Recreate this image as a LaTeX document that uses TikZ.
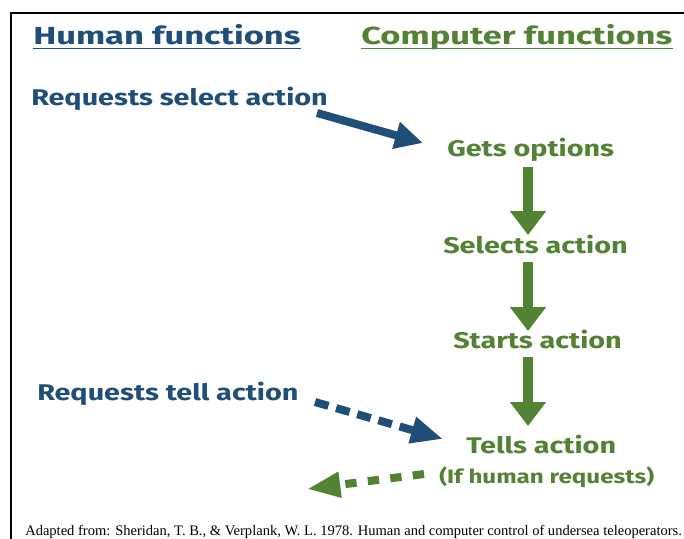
\documentclass[tikz,border=0pt]{standalone}
\usepackage{fontspec}
\setmainfont{Fira Sans}
\newfontfamily\headfont{Fira Sans}[FakeStretch=1.40]
\newfontfamily\stepfont{Fira Sans}[FakeStretch=1.27]
\newfontfamily\notefont{Fira Sans}[FakeStretch=1.25]
\newfontfamily\citefont{Liberation Serif}
\usetikzlibrary{arrows.meta}
\definecolor{hblue}{HTML}{1F4E79}
\definecolor{cgreen}{HTML}{548235}
\begin{document}
\begin{tikzpicture}[x=0.75pt,y=-0.75pt,
  txt/.style={inner sep=0pt, anchor=base west},
  headtxt/.style={txt, font=\headfont\bfseries\fontsize{18.5}{22}\selectfont},
  steptxt/.style={txt, font=\stepfont\bfseries\fontsize{17}{20}\selectfont},
  notetxt/.style={txt, font=\notefont\bfseries\fontsize{14.5}{17}\selectfont},
  human/.style={text=hblue},
  comp/.style={text=cgreen},
  uline/.style={line width=1.1pt},
  flowarrow/.style={draw=cgreen, line width=7.2pt,
    -{Triangle[length=18pt,width=26pt]}},
  reqarrow/.style={draw=hblue, line width=6pt,
    -{Triangle[length=21pt,width=19.5pt]}},
  reqdash/.style={draw=hblue, line width=6pt, dash pattern=on 10.5pt off 6pt,
    -{Triangle[length=24pt,width=19pt]}},
  replydash/.style={draw=cgreen, line width=6pt, dash pattern=on 8.5pt off 8.5pt,
    -{Triangle[length=25pt,width=18pt]}}
]
\useasboundingbox (0,0) rectangle (684,538);
\fill[white] (0,0) rectangle (684,538);

% frame
\draw[line width=2.2pt] (11,540) -- (11,13) -- (686,13);

% column headings
\node[headtxt, human] (hum) at (33,45) {Human functions};
\node[headtxt, comp] (cmp) at (361,45) {Computer functions};
\draw[uline, hblue] ([yshift=-2.6pt]hum.base west) -- ([yshift=-2.6pt]hum.base east);
\draw[uline, cgreen] ([yshift=-2.6pt]cmp.base west) -- ([yshift=-2.6pt]cmp.base east);

% human requests
\node[steptxt, human] (reqsel) at (31,106) {Requests select action};
\node[steptxt, human] (reqtell) at (37,400) {Requests tell action};

% computer steps
\node[steptxt, comp] (gets) at (447,157) {Gets options};
\node[steptxt, comp] (sel) at (443,253) {Selects action};
\node[steptxt, comp] (start) at (453,348) {Starts action};
\node[steptxt, comp] (tells) at (466,453) {Tells action};
\node[notetxt, comp] (ifreq) at (439,483) {(If human requests)};

% arrow end points
\coordinate (r1s) at (317,113);
\coordinate (r1e) at (423,143);
\coordinate (f1s) at (528,167);
\coordinate (f1e) at (528,235);
\coordinate (f2s) at (528,262);
\coordinate (f2e) at (528,331);
\coordinate (f3s) at (528,357);
\coordinate (f3e) at (528,426);
\coordinate (r2s) at (315,402);
\coordinate (r2e) at (443,439);
\coordinate (b1s) at (424,474);
\coordinate (b1e) at (307,489);

% connectors
\draw[reqarrow] (r1s) -- (r1e);
\draw[flowarrow] (f1s) -- (f1e);
\draw[flowarrow] (f2s) -- (f2e);
\draw[flowarrow] (f3s) -- (f3e);
\draw[reqdash] (r2s) -- (r2e);
\draw[replydash] (b1s) -- (b1e);

% source line
\node[txt, font=\citefont\fontsize{10.9}{13}\selectfont] (src) at (25,535)
  {Adapted from: Sheridan, T. B., \& Verplank, W. L. 1978. Human and computer control of undersea teleoperators.};
\end{tikzpicture}
\end{document}
